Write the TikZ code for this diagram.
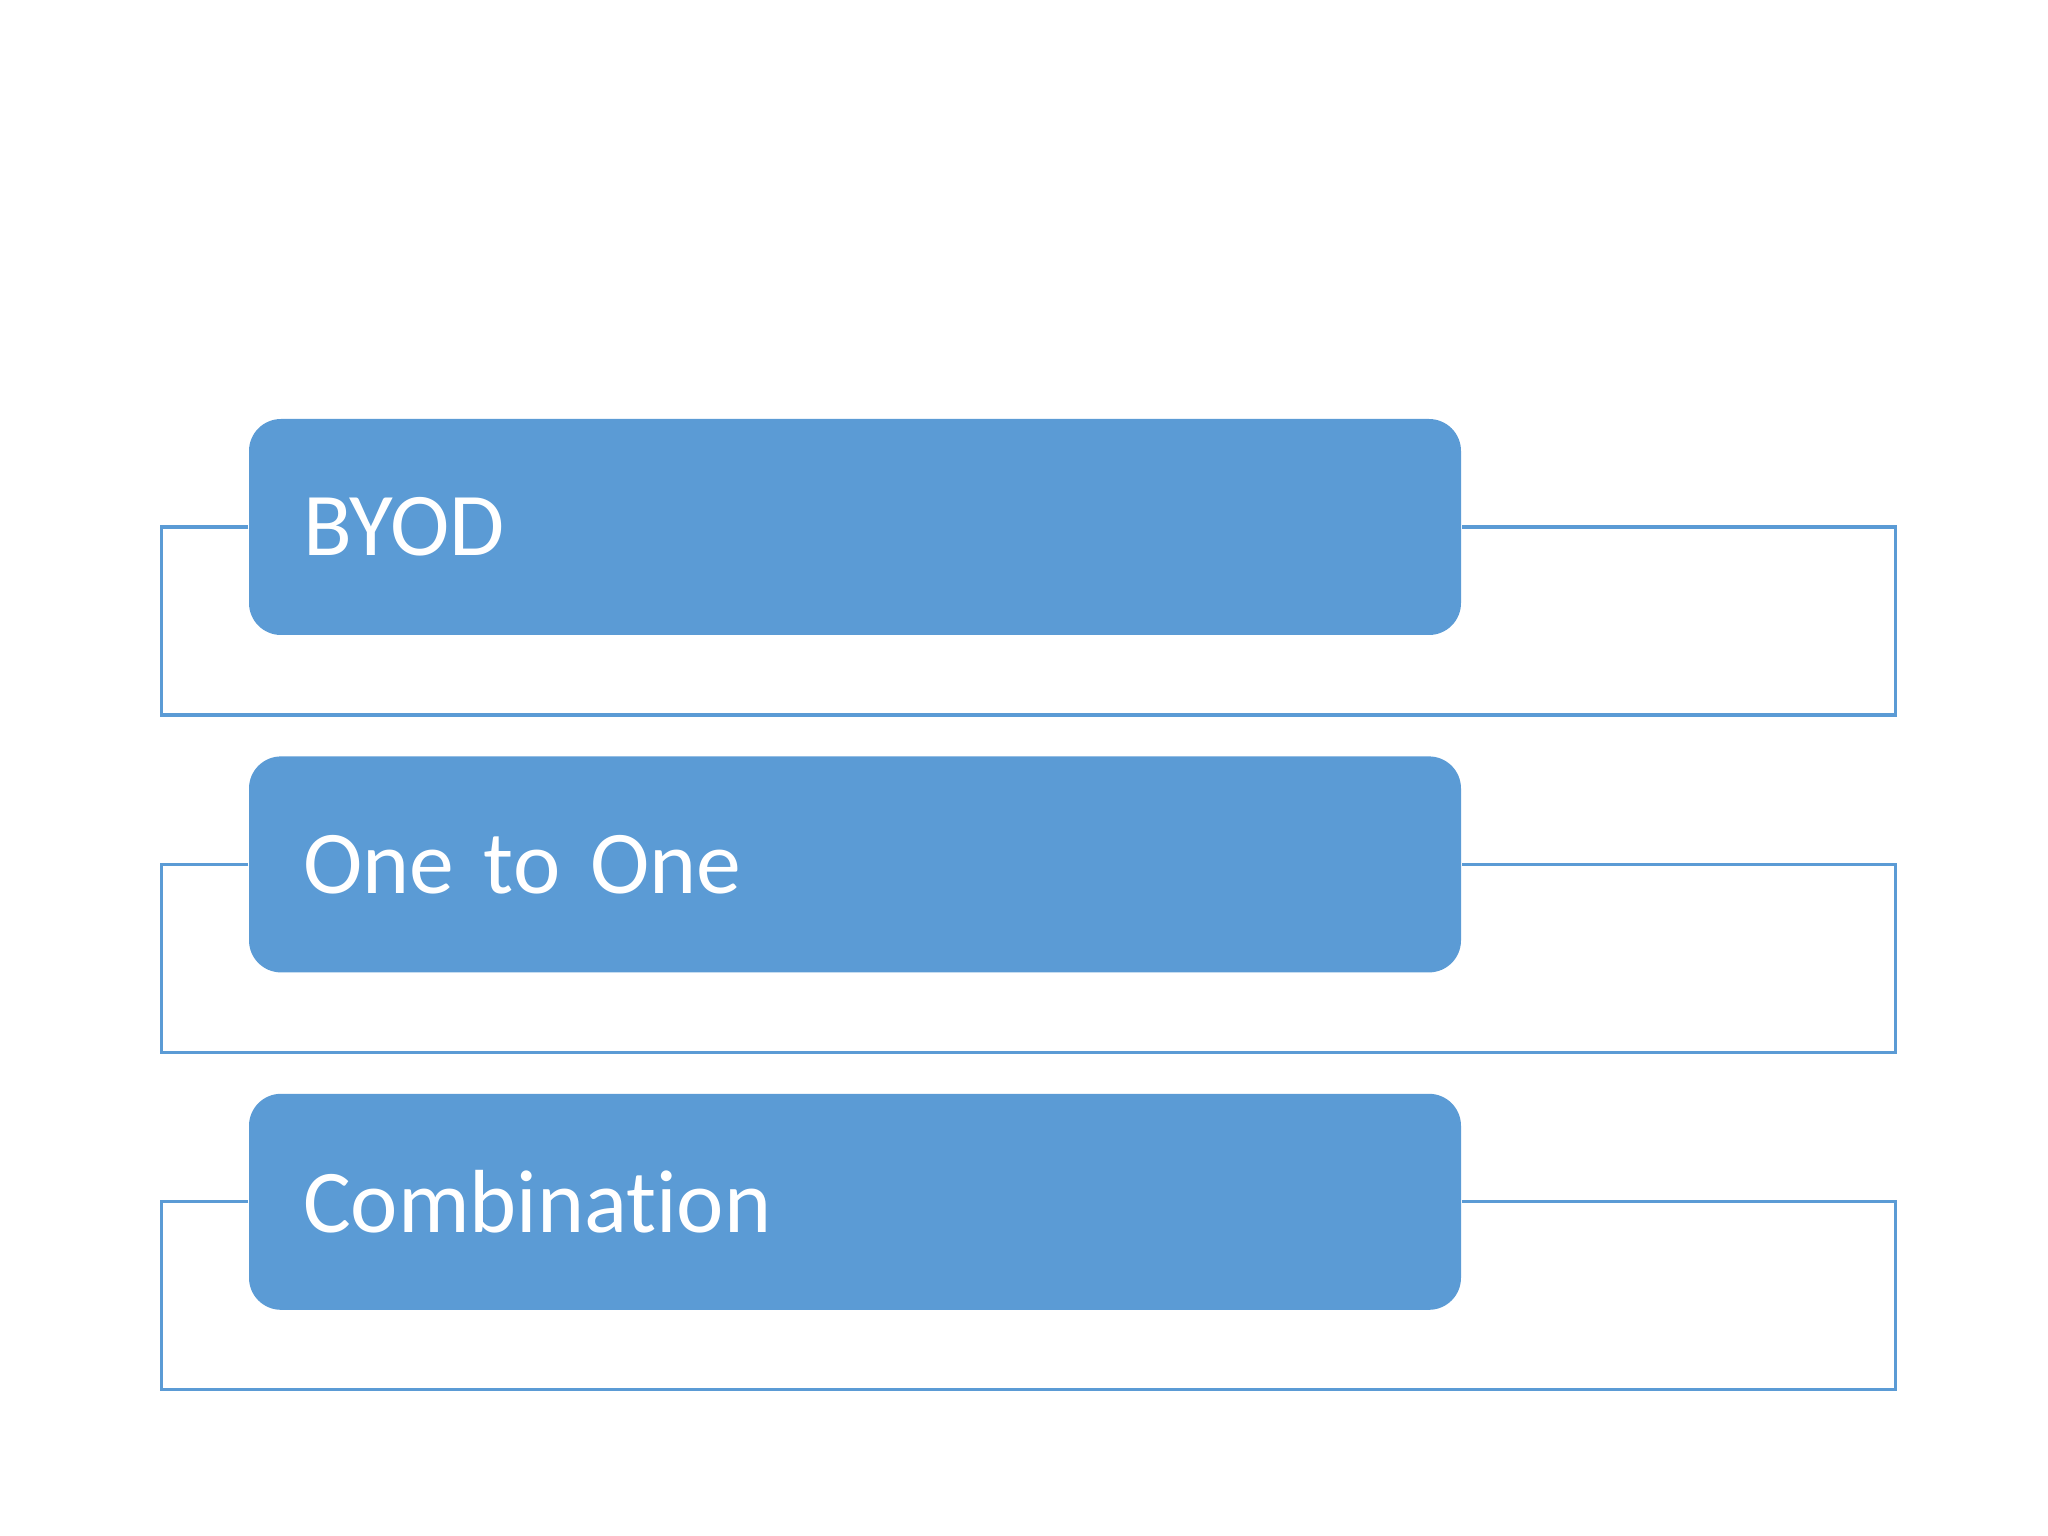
\documentclass[tikz,border=0pt]{standalone}
\usepackage{fontspec}
\setmainfont{Carlito}[Ligatures={NoCommon}]
\usepackage{xcolor}
\usetikzlibrary{positioning}
\definecolor{boxblue}{HTML}{5B9BD5}

\begin{document}
\begin{tikzpicture}[node distance={1.2cm}, box/.style = {fill=boxblue, rounded corners=0.32cm, minimum width=12.12cm, minimum height=2.16cm, text width=11.04cm, inner xsep=0.54cm, align=left, text=white, font=\fontsize{25.5}{30}\selectfont}, frame/.style = {draw=boxblue, line width=0.9pt}]
\useasboundingbox (0,0) rectangle (20.48,-15.36);
\node[box] (b1) at (8.55,-5.27) {BYOD};
\node[box] (b2) [below=of b1] {One to One};
\node[box] (b3) [below=of b2] {Combination};
\foreach \n in {b1,b2,b3}
  \draw[frame] (\n.west) -- ++(-0.87,0) -- ++(0,-1.88) -- ++(17.34,0) -- ++(0,1.88) -- (\n.east);
\end{tikzpicture}
\end{document}
